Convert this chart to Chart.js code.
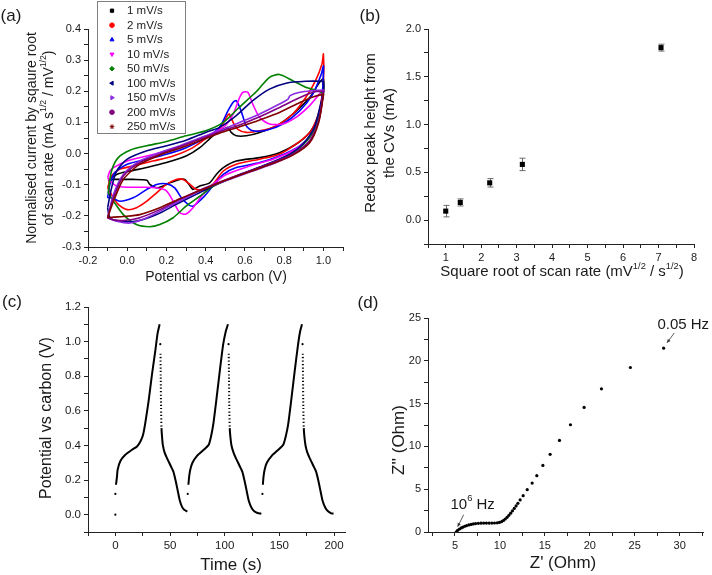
<!DOCTYPE html>
<html>
<head>
<meta charset="utf-8">
<script src="https://cdn.jsdelivr.net/npm/chart.js@4.4.1/dist/chart.umd.min.js"></script>
<style>
    body { margin: 0; background: #fff; width: 712px; height: 575px; position: relative; overflow: hidden; }
    canvas { position: absolute; }
</style>
</head>
<body>
<canvas id="cv-chart" width="356" height="290" style="left:0;top:0"></canvas>
<canvas id="peak-chart" width="356" height="290" style="left:356px;top:0"></canvas>
<canvas id="gcd-chart" width="356" height="285" style="left:0;top:290px"></canvas>
<canvas id="eis-chart" width="356" height="285" style="left:356px;top:290px"></canvas>
<script>
// ---- (a) cyclic voltammograms: potential (V) / normalised current, anodic then cathodic branch
var scanRates = ['1 mV/s', '2 mV/s', '5 mV/s', '10 mV/s', '50 mV/s', '100 mV/s', '150 mV/s', '200 mV/s', '250 mV/s'];

var cv1V = [-0.097,-0.054,0.014,0.1,0.2,0.3,0.37,0.437,0.49,0.514,0.53,0.556,0.607,0.675,0.76,0.844,0.93,0.98,1.0, 1.0,0.97,0.93,0.86,0.776,0.675,0.556,0.49,0.454,0.42,0.37,0.335,0.32,0.293,0.268,0.217,0.183,0.15,0.115,0.1,0.03,-0.037,-0.07,-0.097];
var cv1I = [-0.088,-0.067,-0.056,-0.045,-0.029,-0.008,0.019,0.057,0.078,0.084,0.068,0.057,0.057,0.068,0.089,0.127,0.18,0.228,0.24, 0.19,0.116,0.068,0.03,0.003,-0.013,-0.024,-0.045,-0.067,-0.094,-0.104,-0.115,-0.104,-0.083,-0.083,-0.094,-0.104,-0.11,-0.099,-0.086,-0.083,-0.083,-0.083,-0.088];

var cv2V = [-0.1,-0.08,-0.037,0.03,0.13,0.234,0.335,0.42,0.47,0.505,0.52,0.54,0.564,0.607,0.675,0.76,0.844,0.91,0.96,0.993,1.0, 1.0,0.98,0.937,0.86,0.776,0.675,0.556,0.49,0.437,0.403,0.352,0.32,0.285,0.25,0.2,0.15,0.1,0.047,0.0,-0.046,-0.07,-0.1];
var cv2I = [-0.11,-0.072,-0.05,-0.04,-0.024,-0.008,0.019,0.057,0.078,0.116,0.127,0.1,0.078,0.068,0.073,0.089,0.127,0.18,0.234,0.288,0.32, 0.234,0.138,0.073,0.03,-0.002,-0.018,-0.034,-0.056,-0.099,-0.115,-0.115,-0.099,-0.083,-0.083,-0.099,-0.126,-0.153,-0.174,-0.18,-0.163,-0.142,-0.11];

var cv5V = [-0.1,-0.088,-0.063,0,0.1,0.2,0.3,0.403,0.47,0.514,0.54,0.556,0.58,0.607,0.64,0.71,0.793,0.88,0.946,0.99,1.0, 1.0,0.99,0.946,0.88,0.776,0.675,0.556,0.49,0.437,0.386,0.335,0.31,0.276,0.242,0.2,0.15,0.1,0.03,-0.037,-0.08,-0.1];
var cv5I = [-0.142,-0.099,-0.061,-0.034,-0.018,-0.002,0.019,0.052,0.084,0.138,0.165,0.17,0.138,0.089,0.073,0.075,0.095,0.138,0.191,0.256,0.283, 0.256,0.16,0.068,0.025,-0.008,-0.029,-0.045,-0.067,-0.104,-0.142,-0.169,-0.163,-0.142,-0.11,-0.097,-0.099,-0.115,-0.142,-0.153,-0.142,-0.142];

var cv10V = [-0.1,-0.088,-0.07,0,0.1,0.2,0.3,0.403,0.49,0.54,0.573,0.59,0.615,0.64,0.675,0.725,0.793,0.86,0.93,0.98,1.0, 1.0,0.98,0.93,0.844,0.742,0.624,0.505,0.437,0.386,0.335,0.3,0.268,0.234,0.2,0.15,0.081,0,-0.054,-0.088,-0.1];
var cv10I = [-0.077,-0.056,-0.045,-0.024,-0.008,0.009,0.03,0.057,0.084,0.127,0.18,0.197,0.197,0.159,0.116,0.095,0.095,0.116,0.154,0.191,0.205, 0.197,0.116,0.052,0.009,-0.018,-0.04,-0.067,-0.099,-0.131,-0.174,-0.194,-0.19,-0.153,-0.12,-0.11,-0.108,-0.108,-0.104,-0.088,-0.077];

var cv50V = [-0.097,-0.08,-0.046,0.014,0.1,0.2,0.3,0.4,0.49,0.57,0.66,0.725,0.776,0.844,0.91,0.98,1.0, 1.0,0.97,0.93,0.86,0.78,0.67,0.56,0.44,0.37,0.3,0.234,0.166,0.115,0.047,-0.02,-0.07,-0.097];
var cv50I = [-0.126,-0.056,-0.013,0.011,0.025,0.039,0.057,0.073,0.1,0.148,0.2,0.245,0.254,0.234,0.213,0.2,0.19, 0.19,0.105,0.052,0.009,-0.018,-0.045,-0.072,-0.104,-0.137,-0.169,-0.206,-0.228,-0.235,-0.228,-0.196,-0.153,-0.126];

var cv100V = [-0.1,-0.08,-0.054,0,0.1,0.2,0.3,0.4,0.47,0.556,0.64,0.725,0.81,0.91,0.99,1.0, 1.0,0.99,0.954,0.895,0.81,0.69,0.573,0.454,0.352,0.25,0.15,0.047,-0.037,-0.088,-0.1];
var cv100I = [-0.174,-0.11,-0.056,-0.018,0.009,0.025,0.043,0.068,0.084,0.122,0.17,0.207,0.226,0.232,0.232,0.229, 0.2,0.17,0.084,0.03,-0.008,-0.04,-0.067,-0.099,-0.131,-0.163,-0.196,-0.217,-0.217,-0.206,-0.174];

var cv150V = [-0.1,-0.07,-0.02,0.064,0.166,0.268,0.37,0.47,0.573,0.675,0.776,0.82,0.83,0.88,0.946,1.0, 1.0,0.98,0.937,0.86,0.76,0.64,0.52,0.403,0.3,0.2,0.1,0.014,-0.054,-0.1];
var cv150I = [-0.206,-0.131,-0.067,-0.024,0.003,0.025,0.05,0.073,0.1,0.127,0.159,0.175,0.186,0.197,0.202,0.204, 0.2,0.116,0.046,0.003,-0.029,-0.056,-0.083,-0.11,-0.142,-0.174,-0.206,-0.223,-0.217,-0.206];

var cv200V = [-0.1,-0.07,-0.02,0.064,0.166,0.268,0.37,0.47,0.573,0.675,0.776,0.88,0.946,1.0, 1.0,0.976,0.93,0.844,0.742,0.624,0.505,0.386,0.268,0.166,0.064,-0.02,-0.07,-0.1];
var cv200I = [-0.206,-0.142,-0.072,-0.029,-0.002,0.022,0.046,0.07,0.092,0.118,0.148,0.18,0.197,0.2, 0.197,0.105,0.041,-0.002,-0.029,-0.056,-0.083,-0.113,-0.147,-0.18,-0.206,-0.215,-0.213,-0.206];

var cv250V = [-0.1,-0.07,-0.02,0.064,0.166,0.268,0.37,0.47,0.573,0.675,0.776,0.88,0.946,1.0, 1.0,0.976,0.93,0.844,0.742,0.624,0.505,0.386,0.268,0.166,0.064,-0.02,-0.07,-0.1];
var cv250I = [-0.206,-0.153,-0.083,-0.034,-0.005,0.017,0.041,0.065,0.086,0.108,0.132,0.164,0.182,0.19, 0.186,0.1,0.035,-0.005,-0.032,-0.058,-0.085,-0.115,-0.145,-0.174,-0.196,-0.202,-0.204,-0.206];

var cvPotentials = [cv1V, cv2V, cv5V, cv10V, cv50V, cv100V, cv150V, cv200V, cv250V];
var cvCurrents = [cv1I, cv2I, cv5I, cv10I, cv50I, cv100I, cv150I, cv200I, cv250I];
var cvColors = ['#000000', '#ff0000', '#0000ff', '#ff00ff', '#008000', '#000080', '#8a2be2', '#800080', '#800000'];
var cvMarkers = [['rect', 0], ['circle', 0], ['triangle', 0], ['triangle', 180], ['rectRot', 0], ['triangle', -90], ['triangle', 90], ['circle', 0], ['star', 0]];

// ---- (b) redox peak height vs sqrt(scan rate)
var sqrtRate = [1, 1.41, 2.24, 3.16, 7.07];
var peakHeight = [0.094, 0.185, 0.39, 0.583, 1.805];
var peakError = [0.06, 0.037, 0.044, 0.065, 0.036];

// ---- (c) galvanostatic charge/discharge (null = jump between samples)
var cycle1Time = [0.6,1.5,2.1,4.6,9.1,15.2,19.8,22.9,25.3,27.4,30.5,33.5,36.6,38.7,40.5, 40.9, 41.3,41.5,41.8,42.2,42.7,43.5,45,47,50,53,55,57,59,61,63,65.8];
var cycle1Volt = [0.173,0.22,0.26,0.31,0.346,0.375,0.394,0.423,0.46,0.53,0.66,0.81,0.95,1.05,1.1, null, 0.93,0.8,0.62,0.5,0.45,0.40,0.36,0.33,0.29,0.25,0.2,0.14,0.08,0.045,0.028,0.018];
var cycle2Time = [66.8,67.5,68.5,70.5,74.7,80.8,85.4,87.5,89.5,92.5,95.5,98.5,101,103, 103.3, 103.7,103.9,104.2,104.6,105.2,106.2,108,110,113,116,118,120,122,124.5,127,130,133.5];
var cycle2Volt = [0.173,0.22,0.26,0.3,0.34,0.375,0.404,0.452,0.52,0.67,0.83,0.98,1.06,1.1, null, 0.93,0.8,0.62,0.5,0.45,0.40,0.36,0.33,0.29,0.25,0.2,0.14,0.08,0.04,0.02,0.01,0.006];
var cycle3Time = [134.9,135.5,136.5,138.5,143,149,153.5,155.8,158,161,164,167,169,170.7, 171.0, 171.4,171.6,171.9,172.3,172.9,173.9,175.5,177.5,180.5,183.5,185.5,187.5,189.5,192,194.5,197.5,199.5];
var cycle3Volt = [0.173,0.22,0.26,0.3,0.34,0.375,0.404,0.452,0.52,0.67,0.83,0.98,1.06,1.1, null, 0.93,0.8,0.62,0.5,0.45,0.40,0.36,0.33,0.29,0.25,0.2,0.14,0.08,0.04,0.02,0.008,0.006];
var dotTime = [0, 0, 41.1, 66.2, 103.5, 134.5, 171.2];
var dotVolt = [0, 0.12, 0.985, 0.12, 0.985, 0.12, 0.985];

// ---- (d) Nyquist plot
var zReal = [5.15,5.3,5.5,5.7,5.9,6.1,6.3,6.55,6.8,7.05,7.3,7.6,7.9,8.2,8.5,8.8,9.1,9.4,9.7,9.95,10.2,10.4,10.6,10.8,11.0,11.2,11.4,11.6,11.8,12.0,12.25,12.59,13.04,13.59,14.11,14.78,15.59,16.63,17.85,19.37,21.3,24.52,28.22];
var zImag = [0.03,0.2,0.35,0.48,0.58,0.67,0.75,0.83,0.89,0.94,0.98,1.01,1.03,1.04,1.04,1.04,1.04,1.05,1.07,1.12,1.22,1.35,1.52,1.72,1.95,2.2,2.47,2.75,3.05,3.35,3.75,4.24,4.94,5.72,6.58,7.78,9.07,10.7,12.53,14.55,16.73,19.22,21.48];

var FONT = '"Liberation Sans", Arial, sans-serif';
var INK = '#1a1a1a';
Chart.defaults.font.family = FONT;
Chart.defaults.font.size = 11;
Chart.defaults.color = INK;
Chart.defaults.animation = false;
Chart.defaults.events = [];
Chart.defaults.plugins.legend.display = false;
Chart.defaults.plugins.tooltip.enabled = false;

function pairs(xs, ys) {
    return xs.map(function(x, i) { return { x: x, y: ys[i] }; });
}

function linearAxis(min, max, step, every, digits, size, fontSize) {
    return {
        type: 'linear', min: min, max: max,
        border: { display: true, color: '#222', width: 1 },
        grid: { drawOnChartArea: false, tickLength: 4, tickColor: '#222' },
        ticks: {
            stepSize: step, autoSkip: false, maxRotation: 0, includeBounds: false, padding: 3,
            font: { size: fontSize || 11 },
            callback: function(v) {
                var k = Math.round(v / every);
                if (Math.abs(v - k * every) > step / 100) return '';
                var s = (k * every).toFixed(digits);
                return s === '-0.0' ? '0.0' : s;
            }
        },
        afterFit: function(s) { if (s.isHorizontal()) s.height = size; else s.width = size; }
    };
}

// text with superscript parts: parts = [[text, isSup], ...], centred at x,y
function drawRich(ctx, parts, x, y, size, rotate, align) {
    ctx.save();
    ctx.translate(x, y);
    if (rotate) ctx.rotate(-Math.PI / 2);
    var widths = parts.map(function(p) {
        ctx.font = (p[1] ? size * 0.62 : size) + 'px ' + FONT;
        return ctx.measureText(p[0]).width;
    });
    var total = widths.reduce(function(a, b) { return a + b; }, 0);
    var cx = align === 'left' ? 0 : -total / 2;
    ctx.fillStyle = INK;
    ctx.textBaseline = 'middle';
    ctx.textAlign = 'left';
    parts.forEach(function(p, i) {
        ctx.font = (p[1] ? size * 0.62 : size) + 'px ' + FONT;
        ctx.fillText(p[0], cx, p[1] ? -size * 0.38 : 0);
        cx += widths[i];
    });
    ctx.restore();
}

function textLayer(items) {
    return {
        id: 'textLayer',
        afterDraw: function(chart) {
            items.forEach(function(it) {
                var pos = typeof it.at === 'function' ? it.at(chart) : it.at;
                drawRich(chart.ctx, it.parts, pos[0], pos[1], it.size, it.rotate, it.align);
            });
        }
    };
}

// ---- (a)
var cvLegend = {
    id: 'cvLegend',
    afterDraw: function(chart) {
        var ctx = chart.ctx;
        ctx.save();
        ctx.fillStyle = '#fff';
        ctx.fillRect(97.5, 1.5, 88, 132);
        ctx.strokeStyle = '#808080';
        ctx.lineWidth = 1;
        ctx.strokeRect(97.5, 1.5, 88, 132);
        scanRates.forEach(function(label, i) {
            var y = 10.7 + i * 14.5;
            ctx.fillStyle = cvColors[i];
            ctx.strokeStyle = cvColors[i];
            if (Chart.helpers && Chart.helpers.drawPoint) {
                Chart.helpers.drawPoint(ctx, { pointStyle: cvMarkers[i][0], rotation: cvMarkers[i][1], radius: 2.3, borderWidth: 1 }, 112, y);
            } else {
                ctx.fillRect(110, y - 2, 4, 4);
            }
            ctx.fillStyle = INK;
            ctx.font = '11.5px ' + FONT;
            ctx.textBaseline = 'middle';
            ctx.textAlign = 'left';
            ctx.fillText(label, 127, y + 0.5);
        });
        ctx.restore();
    }
};

new Chart(document.getElementById('cv-chart'), {
    type: 'scatter',
    data: {
        datasets: scanRates.map(function(label, i) {
            return {
                label: label,
                data: pairs(cvPotentials[i], cvCurrents[i]),
                showLine: true,
                borderColor: cvColors[i],
                borderWidth: 1.6,
                pointRadius: 0,
                tension: 0.25,
                order: scanRates.length - i
            };
        })
    },
    options: {
        responsive: false,
        layout: { padding: { top: 29, right: 13, left: 0, bottom: 0 } },
        scales: {
            x: linearAxis(-0.2, 1.1, 0.1, 0.2, 1, 43),
            y: linearAxis(-0.3, 0.4, 0.05, 0.1, 1, 88)
        }
    },
    plugins: [cvLegend, textLayer([
        { parts: [['(a)']], at: [11, 16], size: 17 },
        { parts: [['Normalised current by sqaure root']], at: [32, 138], size: 14, rotate: true },
        { parts: [['of scan rate (mA s'], ['1/2', true], [' / mV'], ['1/2', true], [')']], at: [49, 138], size: 14, rotate: true },
        { parts: [['Potential vs carbon (V)']], at: [216, 277], size: 14 }
    ])]
});

// ---- (b)
var errorBars = {
    id: 'errorBars',
    beforeDatasetsDraw: function(chart) {
        var ctx = chart.ctx, xs = chart.scales.x, ys = chart.scales.y;
        ctx.save();
        ctx.strokeStyle = '#6b6b6b';
        ctx.lineWidth = 1;
        sqrtRate.forEach(function(v, i) {
            var px = Math.round(xs.getPixelForValue(v)) + 0.5;
            var top = ys.getPixelForValue(peakHeight[i] + peakError[i]);
            var bot = ys.getPixelForValue(peakHeight[i] - peakError[i]);
            ctx.beginPath();
            ctx.moveTo(px, top); ctx.lineTo(px, bot);
            ctx.moveTo(px - 3, top); ctx.lineTo(px + 3, top);
            ctx.moveTo(px - 3, bot); ctx.lineTo(px + 3, bot);
            ctx.stroke();
        });
        ctx.restore();
    }
};

new Chart(document.getElementById('peak-chart'), {
    type: 'scatter',
    data: {
        datasets: [{
            data: pairs(sqrtRate, peakHeight),
            pointStyle: 'rect',
            pointRadius: 3.6,
            backgroundColor: '#000',
            borderColor: '#000',
            borderWidth: 0
        }]
    },
    options: {
        responsive: false,
        layout: { padding: { top: 29, right: 18, left: 0, bottom: 0 } },
        scales: {
            x: linearAxis(0.5, 8, 0.5, 1, 0, 46),
            y: linearAxis(-0.25, 2.0, 0.25, 0.5, 1, 72)
        }
    },
    plugins: [errorBars, textLayer([
        { parts: [['(b)']], at: [14, 16], size: 17 },
        { parts: [['Redox peak height from']], at: [15, 133], size: 15, rotate: true },
        { parts: [['the CVs (mA)']], at: [34, 133], size: 15, rotate: true },
        { parts: [['Square root of scan rate (mV'], ['1/2', true], [' / s'], ['1/2', true], [')']], at: [206, 272], size: 15 }
    ])]
});

// ---- (c)
function steepDash(ctx) {
    var dx = Math.abs(ctx.p1.x - ctx.p0.x), dy = Math.abs(ctx.p1.y - ctx.p0.y);
    return dy > 20 * dx ? [1.2, 2.2] : undefined;
}

new Chart(document.getElementById('gcd-chart'), {
    type: 'scatter',
    data: {
        datasets: [cycle1Time, cycle2Time, cycle3Time].map(function(t, i) {
            return {
                data: pairs(t, [cycle1Volt, cycle2Volt, cycle3Volt][i]),
                showLine: true,
                spanGaps: false,
                borderColor: '#000',
                borderWidth: 2,
                pointRadius: 0,
                tension: 0.2,
                segment: { borderDash: steepDash }
            };
        }).concat([{
            data: pairs(dotTime, dotVolt),
            pointRadius: 1.1,
            backgroundColor: '#000',
            borderWidth: 0
        }])
    },
    options: {
        responsive: false,
        layout: { padding: { top: 17, right: 11, left: 0, bottom: 0 } },
        scales: {
            x: linearAxis(-25, 210, 25, 50, 0, 43, 11.5),
            y: linearAxis(-0.1, 1.2, 0.1, 0.2, 1, 88, 11.5)
        }
    },
    plugins: [textLayer([
        { parts: [['(c)']], at: [12, 12], size: 17 },
        { parts: [['Potential vs carbon (V)']], at: [47, 128], size: 16, rotate: true },
        { parts: [['Time (s)']], at: [231, 275], size: 17 }
    ])]
});

// ---- (d)
function dataPt(x, y) {
    return function(chart) { return [chart.scales.x.getPixelForValue(x), chart.scales.y.getPixelForValue(y)]; };
}

var eisArrows = {
    id: 'eisArrows',
    afterDraw: function(chart) {
        var ctx = chart.ctx;
        [[[5.97, 2.02], [5.3, 0.62]], [[29.4, 23.25], [28.6, 22.1]]].forEach(function(a) {
            var p0 = dataPt(a[0][0], a[0][1])(chart), p1 = dataPt(a[1][0], a[1][1])(chart);
            var ang = Math.atan2(p1[1] - p0[1], p1[0] - p0[0]);
            ctx.save();
            ctx.strokeStyle = '#333';
            ctx.fillStyle = '#333';
            ctx.lineWidth = 0.8;
            ctx.beginPath();
            ctx.moveTo(p0[0], p0[1]);
            ctx.lineTo(p1[0], p1[1]);
            ctx.stroke();
            ctx.beginPath();
            ctx.moveTo(p1[0], p1[1]);
            ctx.lineTo(p1[0] - 4 * Math.cos(ang - 0.45), p1[1] - 4 * Math.sin(ang - 0.45));
            ctx.lineTo(p1[0] - 4 * Math.cos(ang + 0.45), p1[1] - 4 * Math.sin(ang + 0.45));
            ctx.closePath();
            ctx.fill();
            ctx.restore();
        });
    }
};

new Chart(document.getElementById('eis-chart'), {
    type: 'scatter',
    data: {
        datasets: [{
            data: pairs(zReal, zImag),
            pointRadius: 1.6,
            backgroundColor: '#000',
            borderWidth: 0
        }]
    },
    options: {
        responsive: false,
        layout: { padding: { top: 28, right: 9, left: 0, bottom: 0 } },
        scales: {
            x: linearAxis(2, 32.6, 2.5, 5, 0, 43),
            y: linearAxis(0, 25, 2.5, 5, 0, 72)
        }
    },
    plugins: [eisArrows, textLayer([
        { parts: [['(d)']], at: [12, 13], size: 17 },
        { parts: [["Z'' (Ohm)"]], at: [43, 150], size: 17, rotate: true },
        { parts: [["Z' (Ohm)"]], at: [207, 273], size: 17 },
        { parts: [['10'], ['6', true], [' Hz']], at: dataPt(4.5, 3.2), size: 15, align: 'left' },
        { parts: [['0.05 Hz']], at: dataPt(30.4, 24.2), size: 15 }
    ])]
});
</script>
</body>
</html>
